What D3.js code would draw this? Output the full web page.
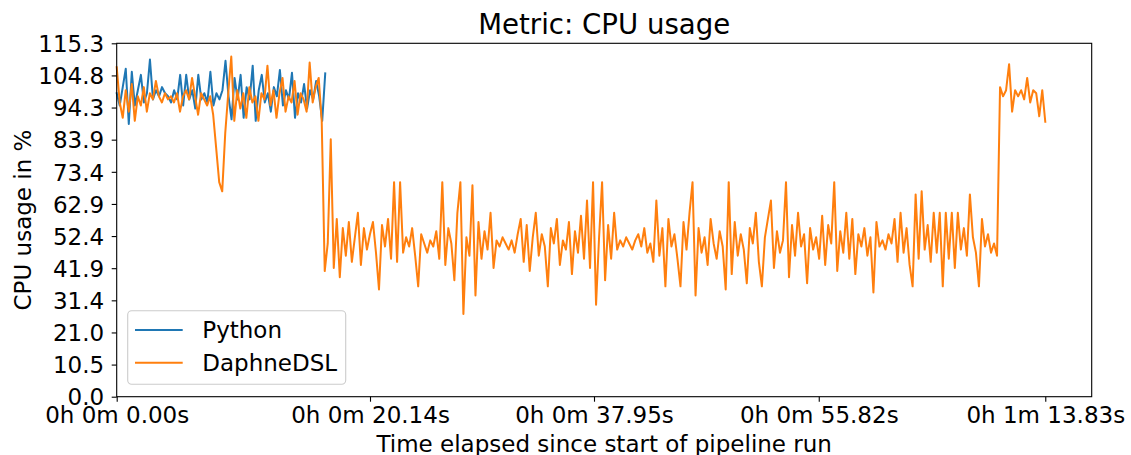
<!DOCTYPE html>
<html>
<head>
<meta charset="utf-8">
<script src="https://cdn.jsdelivr.net/npm/d3@7"></script>
<style>
  html, body { margin: 0; padding: 0; background: #ffffff; }
  svg { display: block; font-family: "DejaVu Sans", sans-serif; }
</style>
</head>
<body>
<svg id="chart" width="1131" height="455"></svg>
<script>
// CPU usage samples (%) per pipeline run, sampled at a fixed interval
const pythonEnd = 16.58;     // seconds, last Python sample
const daphneEnd = 73.83;     // seconds, last DaphneDSL sample

const pythonCpu = [
  99, 95, 101, 107, 89, 106, 95, 100, 105, 96,
  99, 110, 97, 100, 98, 101, 99, 98, 96, 100,
  97, 105, 95, 105, 97, 100, 94, 105, 97, 99,
  96, 106, 95, 99, 97, 100, 109.6, 98, 90.5, 104,
  97, 105, 91, 101, 97, 108, 90, 100, 105, 96,
  99, 93, 101, 98, 106.6, 95, 100, 97, 105.7, 91,
  99, 96, 102, 94, 100, 97, 103, 98, 90, 105.5
];

const daphneCpu = [
  107.5, 96, 91, 100, 93, 102, 90, 98, 95, 101,
  93, 99, 97, 103, 98, 96, 99, 97, 98, 96,
  99, 93, 98, 100, 97, 104, 98, 92, 99, 97,
  95, 98, 92, 81, 70, 67, 86, 99, 111, 90,
  100, 94, 99, 91, 101, 96, 98, 90, 99, 97,
  108, 95, 100, 91, 99, 104, 93, 98, 96, 103,
  92, 99, 97, 93, 109, 96, 101, 104, 90,
  41, 50, 84, 42, 58, 39, 55, 46, 57, 44,
  52, 60, 43, 55, 48, 53, 57, 47, 35, 56,
  49, 58, 45, 70, 44, 70, 47, 52, 49, 55,
  46, 36, 53, 50, 47, 51, 49, 54, 45, 70,
  43, 55, 50, 38, 60, 70, 27, 52, 46, 69,
  33, 57, 45, 54, 48, 60, 42, 51, 49, 52,
  50, 48, 51, 47, 53, 58, 44, 56, 41, 52,
  60, 46, 53, 49, 36, 55, 50, 58, 43, 51,
  48, 57, 40, 54, 47, 59, 45, 64, 42, 70,
  30, 52, 70, 38, 56, 45, 60, 48, 51, 49,
  52, 50, 48, 51, 53, 49, 55, 47, 50, 44,
  64, 46, 55, 36, 58, 49, 53, 45, 36, 57,
  48, 60, 70, 33, 55, 47, 52, 43, 58, 50,
  45, 54, 49, 35, 70, 40, 57, 46, 53, 48,
  37, 55, 50, 60, 44, 36, 52, 58, 64, 42,
  54, 47, 51, 70, 39, 56, 46, 60, 49, 53,
  37, 55, 48, 52, 45, 59, 43, 56, 50, 70,
  41, 54, 47, 60, 45, 58, 40, 53, 49, 55,
  46, 52, 34, 57, 49, 51, 48, 53, 50, 58,
  44, 60, 47, 55, 43, 36, 66, 45, 67, 48,
  56, 44, 60, 47, 60, 36, 60, 45, 60, 42,
  60, 48, 55, 46, 66, 52, 47, 36, 58, 49,
  53, 47, 50, 46,
  101, 98, 100, 108.5, 93, 100, 98, 100, 97, 104,
  96, 100, 99, 91.5, 100, 89.7
];

const seriesNames = ["Python", "DaphneDSL"];
const seriesColors = ["#1f77b4", "#ff7f0e"];

const xTickValues = [0, 20.14, 37.95, 55.82, 73.83];
const xTickLabels = ["0h 0m 0.00s", "0h 0m 20.14s", "0h 0m 37.95s", "0h 0m 55.82s", "0h 1m 13.83s"];
const yMax = 115.3;
const yTickValues = [0, 10.48, 20.96, 31.44, 41.93, 52.41, 62.89, 73.37, 83.86, 94.34, 104.82, 115.3];

const titleText = "Metric: CPU usage";
const xLabelText = "Time elapsed since start of pipeline run";
const yLabelText = "CPU usage in %";

// Layout
const W = 1131, H = 455;
const plot = { left: 116.7, top: 43.3, right: 1091.7, bottom: 396.7 };
const tickFont = 23;

const svg = d3.select("#chart");

const x = d3.scaleLinear().domain([0, daphneEnd * 1.05]).range([plot.left, plot.right]);
const y = d3.scaleLinear().domain([0, yMax]).range([plot.bottom, plot.top]);

function toPoints(values, endTime) {
  const step = endTime / (values.length - 1);
  return values.map((v, i) => ({ t: i * step, v }));
}
const series = [
  toPoints(pythonCpu, pythonEnd),
  toPoints(daphneCpu, daphneEnd)
];

// Lines
const line = d3.line().x(d => x(d.t)).y(d => y(d.v));
svg.append("g")
  .selectAll("path")
  .data(series)
  .join("path")
  .attr("d", line)
  .attr("fill", "none")
  .attr("stroke", (d, i) => seriesColors[i])
  .attr("stroke-width", 2)
  .attr("stroke-linejoin", "round")
  .attr("stroke-linecap", "square");

// Axes
const xAxis = d3.axisBottom(x)
  .tickValues(xTickValues)
  .tickFormat((d, i) => xTickLabels[i])
  .tickSize(5)
  .tickSizeOuter(0);
const gx = svg.append("g")
  .attr("transform", `translate(0,${plot.bottom})`)
  .call(xAxis);
gx.select(".domain").remove();
gx.selectAll(".tick line").attr("stroke", "#000").attr("stroke-width", 1.1);
gx.selectAll(".tick text")
  .attr("y", 26.8).attr("dy", null)
  .attr("fill", "#000")
  .style("font-size", tickFont + "px")
  .style("font-family", "'DejaVu Sans', sans-serif");

const yAxis = d3.axisLeft(y)
  .tickValues(yTickValues)
  .tickFormat(d3.format(".1f"))
  .tickSize(5)
  .tickSizeOuter(0)
  .tickPadding(7.5);
const gy = svg.append("g")
  .attr("transform", `translate(${plot.left},0)`)
  .call(yAxis);
gy.select(".domain").remove();
gy.selectAll(".tick line").attr("stroke", "#000").attr("stroke-width", 1.1);
gy.selectAll(".tick text")
  .attr("dy", "0.36em")
  .attr("fill", "#000")
  .style("font-size", tickFont + "px")
  .style("font-family", "'DejaVu Sans', sans-serif");

// Frame
svg.append("rect")
  .attr("x", plot.left).attr("y", plot.top)
  .attr("width", plot.right - plot.left)
  .attr("height", plot.bottom - plot.top)
  .attr("fill", "none")
  .attr("stroke", "#000")
  .attr("stroke-width", 1.1);

// Title and axis labels
svg.append("text")
  .attr("x", (plot.left + plot.right) / 2)
  .attr("y", 34)
  .attr("text-anchor", "middle")
  .style("font-size", "27.6px")
  .attr("fill", "#000")
  .text(titleText);

svg.append("text")
  .attr("x", (plot.left + plot.right) / 2)
  .attr("y", 451.5)
  .attr("text-anchor", "middle")
  .style("font-size", tickFont + "px")
  .attr("fill", "#000")
  .text(xLabelText);

svg.append("text")
  .attr("transform", `translate(31,${(plot.top + plot.bottom) / 2}) rotate(-90)`)
  .attr("text-anchor", "middle")
  .style("font-size", tickFont + "px")
  .attr("fill", "#000")
  .text(yLabelText);

// Legend
const legend = svg.append("g");
legend.append("rect")
  .attr("x", 127.7).attr("y", 310.7)
  .attr("width", 218).attr("height", 73.6)
  .attr("rx", 4).attr("ry", 4)
  .attr("fill", "#ffffff").attr("fill-opacity", 0.8)
  .attr("stroke", "#cccccc").attr("stroke-width", 1.1);

const legendRowY = [330, 362.7];
seriesNames.forEach((name, i) => {
  legend.append("line")
    .attr("x1", 135).attr("x2", 182.7)
    .attr("y1", legendRowY[i]).attr("y2", legendRowY[i])
    .attr("stroke", seriesColors[i])
    .attr("stroke-width", 2);
  legend.append("text")
    .attr("x", 202.3)
    .attr("y", legendRowY[i] + 8)
    .style("font-size", tickFont + "px")
    .attr("fill", "#000")
    .text(name);
});
</script>
</body>
</html>
